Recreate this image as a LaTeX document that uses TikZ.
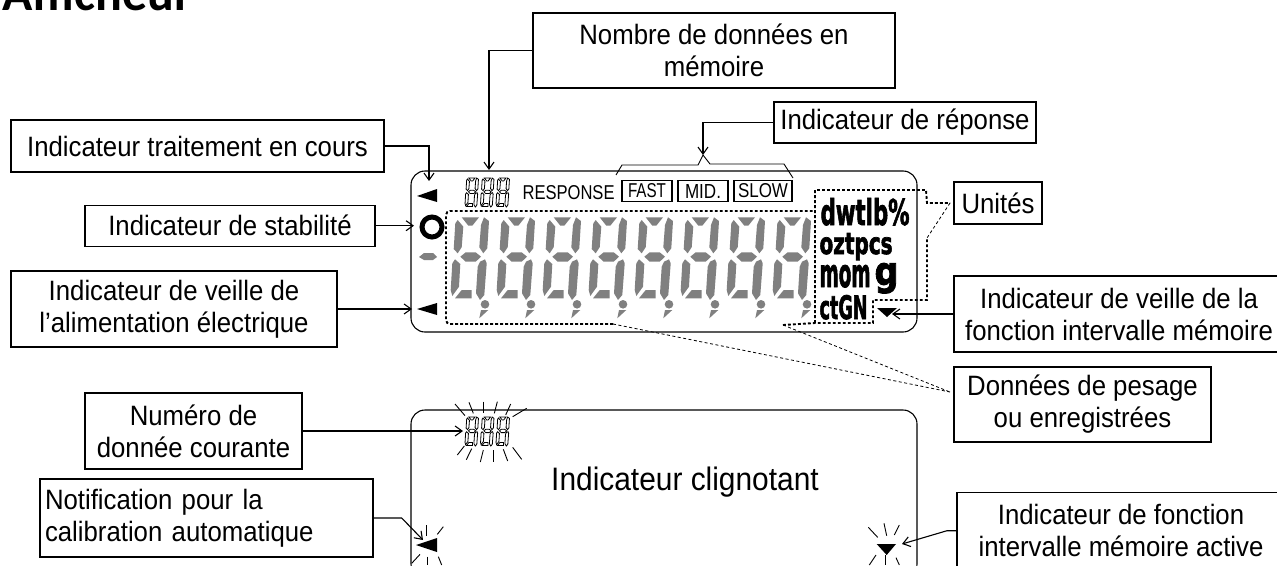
\documentclass[tikz,border=0pt]{standalone}
\usepackage{fontspec}
\setmainfont[FakeStretch=0.92]{Liberation Sans}
\newfontfamily\plainfont{Liberation Sans}
\newfontfamily\titlefont{Carlito}
\newfontfamily\unitfont[BoldFeatures={FakeBold=2.5}]{DejaVu Sans}
\usetikzlibrary{arrows.meta}
\definecolor{lcdgray}{HTML}{808080}
\tikzset{
    label box/.style={draw, line width=1.1pt, inner sep=0pt, align=center, font=\fontsize{28}{32}\selectfont},
    lcd text/.style={anchor=base west, inner sep=0pt},
    heavy dots/.style={line width=1.9pt, dash pattern=on 2.8pt off 2.2pt},
    thin dots/.style={line width=.8pt, dash pattern=on 3pt off 2.5pt},
    ray/.style={line width=.9pt},
}
% one seven segment digit, style given as argument
\newcommand{\lcddigit}[1]{
    \path[#1] (461.7,217.3) -- (479,217.3) -- (472.3,225.7) -- (468.3,225.7) -- cycle;
    \path[#1] (457.7,220) -- (463.3,226.7) -- (461.7,247.3) -- (457.7,253.3) -- (453.7,249) -- (455.3,223.3) -- cycle;
    \path[#1] (484,217.3) -- (489,221) -- (487.3,248.3) -- (483.3,253.3) -- (479.3,247.3) -- (481,225) -- cycle;
    \path[#1] (465.7,252.3) -- (475.7,252.3) -- (481,256.7) -- (475.7,261.7) -- (465.7,261.7) -- (460.3,256.7) -- cycle;
    \path[#1] (455,259.3) -- (460.3,264) -- (459,286.7) -- (452.3,296) -- (450.7,290) -- (452.3,263.3) -- cycle;
    \path[#1] (480,261.7) -- (485,259.3) -- (486.7,263.3) -- (484.3,295) -- (480,300) -- (476,293.3) -- (477.7,266.7) -- cycle;
    \path[#1] (461.7,290) -- (471.7,290) -- (471.7,298.3) -- (455,298.3) -- cycle;
}
\newcommand{\smalldigits}[1]{
    \foreach \d in {0,1,2} {
        \begin{scope}[shift={(#1)}, xshift=\d*15.5pt, scale=.35]
            \lcddigit{draw=black, fill=white, line width=.8pt}
        \end{scope}
    }
}
\begin{document}
\begin{tikzpicture}[x=1pt, y=-1pt, line width=1.1pt, >={Straight Barb[length=7pt,width=10pt]}]
    \useasboundingbox (0,0) rectangle (1277,565);
    \node[lcd text] (titre) at (2,10) {\titlefont\bfseries\fontsize{50}{54}\selectfont Afficheur};

    % the two displays
    \draw[rounded corners=14pt] (411,171) rectangle (917,332);
    \draw[rounded corners=14pt] (411,410) rectangle (917,578);

    % upper display
    \foreach \n in {0,...,7} {
        \begin{scope}[xshift=\n*46pt]
            \lcddigit{fill=lcdgray}
            \fill[lcdgray] (485,304.3) circle (4.3);
            \fill[lcdgray] (481,310) -- (488.3,310) -- (479.3,318.3) -- cycle;
        \end{scope}
    }
    \smalldigits{307.3,102}
    \fill (417,196) -- (437,189) -- (437,202) -- cycle;
    \fill (417,309) -- (437,303) -- (437,315) -- cycle;
    \draw[line width=5pt] (432,227) circle (10);
    \fill[lcdgray] (419,257) -- (424,253) -- (433,253) -- (437,257) -- (433,260) -- (424,260) -- cycle;
    \fill (877,308) -- (897,308) -- (887,317) -- cycle;

    \node[lcd text] (response) at (522,199) {\resizebox{92pt}{14pt}{RESPONSE}};
    \node[draw, minimum width=50pt, minimum height=21pt, inner sep=0pt] (fast) at (647,191) {\resizebox{38pt}{14pt}{FAST}};
    \node[draw, minimum width=50pt, minimum height=21pt, inner sep=0pt] (mid) at (703,191) {\resizebox{36pt}{14pt}{MID.}};
    \node[draw, minimum width=58pt, minimum height=21pt, inner sep=0pt] (slow) at (763,191) {\resizebox{50pt}{14pt}{SLOW}};

    \node[lcd text] (dwtlb) at (820,225) {\resizebox{89pt}{27pt}{\unitfont\bfseries dwtlb\%}};
    \node[lcd text] (oztpcs) at (819,254) {\resizebox{73pt}{21pt}{\unitfont\bfseries oztpcs}};
    \node[lcd text] (mom) at (819,287) {\resizebox{51pt}{22pt}{\unitfont\bfseries mom}};
    \node[lcd text] (gram) at (874,285) {\resizebox{24pt}{22pt}{\unitfont\bfseries g}};
    \node[lcd text] (ctgn) at (819,319) {\resizebox{48pt}{24pt}{\unitfont\bfseries ctGN}};

    % frames round the digits and the units
    \draw[heavy dots] (613,324) -- (452,324) [rounded corners=4pt] -- (446,324) -- (446,211) -- (813,211);
    \draw[heavy dots] (783,325) -- (815,323) -- (873,323) -- (873,300) -- (927,300) -- (927,238);
    \draw[heavy dots] (815,323) -- (815,190) -- (926,190) -- (927,203) -- (950,203);
    \draw[thin dots] (950,203) -- (927,238);
    \draw[thin dots] (613,324) -- (950,392);
    \draw[thin dots] (783,325) -- (950,392);

    % bracket over the response modes
    \draw[line width=.9pt] (616,175) -- (622,165) -- (698,165) -- (703,155) -- (710,164) -- (784,164) -- (793,178);

    % lower display
    \smalldigits{307.3,341}
    \foreach \xa/\ya/\xb/\yb in {165/42/195/77, 207/37/220/70, 250/35/250/70, 292/35/283/70, 332/42/317/75, 380/55/338/80,
            193/168/172/195, 215/176/199/209, 250/180/241/216, 280/180/280/216, 310/178/323/213, 338/172/365/208,
            78/405/78/437, 130/410/112/433, 35/520/60/493, 83/500/83/525, 115/500/125/525} {
        \draw[ray] ({400+\xa/3},{390+\ya/3}) -- ({400+\xb/3},{390+\yb/3});
    }
    \foreach \xa/\ya/\xb/\yb in {85/412/113/442, 132/400/140/437, 178/405/163/435, 108/495/88/525, 135/495/135/525, 168/503/178/525} {
        \draw[ray] ({840+\xa/3},{390+\ya/3}) -- ({840+\xb/3},{390+\yb/3});
    }
    \fill (416,545) -- (437,538) -- (437,552) -- cycle;
    \fill (876.7,544) -- (896,544) -- (886.7,555) -- cycle;
    \node[font=\fontsize{32.5}{36}\selectfont] (clignotant) at (685,482) {Indicateur clignotant};

    % labels
    \node[label box, minimum width=362pt, minimum height=75pt] (nombre) at (714,50.5) {Nombre de données en\\mémoire};
    \node[label box, minimum width=262pt, minimum height=41pt] (reponse) at (905,122.5) {Indicateur de réponse};
    \node[label box, minimum width=373pt, minimum height=52pt] (traitement) at (197.5,146) {Indicateur traitement en cours};
    \node[label box, minimum width=290pt, minimum height=41pt] (stabilite) at (230,225.7) {Indicateur de stabilité};
    \node[label box, minimum width=326pt, minimum height=76pt] (veille) at (174,309) {Indicateur de veille de\\l’alimentation électrique};
    \node[label box, minimum width=88pt, minimum height=42pt] (unites) at (998,203) {Unités};
    \node[label box, minimum width=330pt, minimum height=76pt] (veillemem) at (1119,314) {Indicateur de veille de la\\fonction intervalle mémoire};
    \node[label box, minimum width=257pt, minimum height=75pt] (donnees) at (1082.5,404.5) {Données de pesage\\ou enregistrées};
    \node[label box, minimum width=217pt, minimum height=76pt] (numero) at (193.5,431) {Numéro de\\donnée courante};
    \node[label box, minimum width=333pt, minimum height=78pt, align=left, text width=323pt] (notif) at (206.5,518) {Notification pour la\\calibration automatique};
    \node[label box, minimum width=328pt, minimum height=76pt] (fonction) at (1121,530.7) {Indicateur de fonction\\intervalle mémoire active};

    % free ends of the arrows
    \coordinate (tipnombre) at (489,170);
    \coordinate (tiptraitement) at (429,181);
    \coordinate (tipstabilite) at (414,225.7);
    \coordinate (tipveille) at (412,309);
    \coordinate (tipreponse) at (703,155);
    \coordinate (tipveillemem) at (892,314);
    \coordinate (tipnumero) at (463,431);
    \coordinate (coudenotif) at (401.7,518);
    \coordinate (tipnotif) at (423,540);
    \coordinate (coudefonction) at (947,530.7);
    \coordinate (tipfonction) at (902,544);

    \draw[->] (nombre.west) -| (tipnombre);
    \draw[->] (traitement.east) -| (tiptraitement);
    \draw[->] (stabilite.east) -- (tipstabilite);
    \draw[->] (veille.east) -- (tipveille);
    \draw[->] (reponse.west) -| (tipreponse);
    \draw[->] (veillemem.west) -- (tipveillemem);
    \draw[->] (numero.east) -- (tipnumero);
    \draw[->] (notif.east) -- (coudenotif) -- (tipnotif);
    \draw[->] (fonction.west) -- (coudefonction) -- (tipfonction);
\end{tikzpicture}
\end{document}
